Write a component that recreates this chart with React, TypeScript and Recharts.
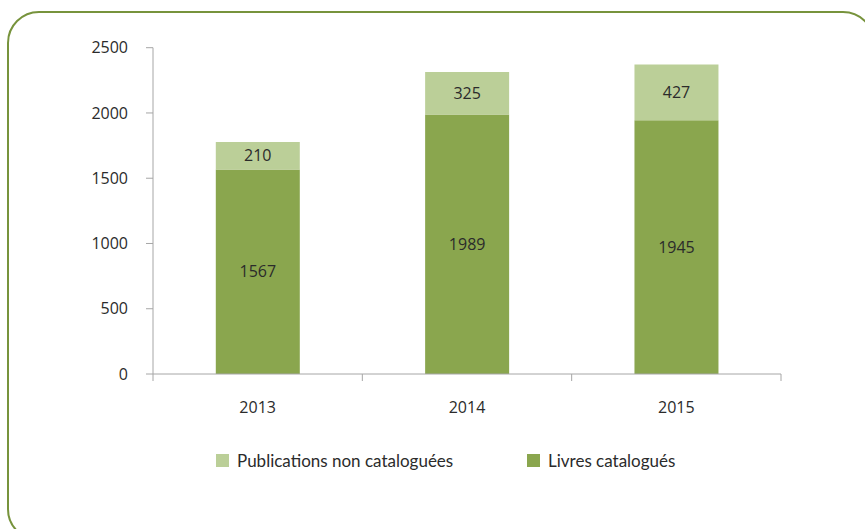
import React from "react";
import { BarChart, Bar, XAxis, YAxis, Legend, LabelList } from "recharts";

const years = ["2013", "2014", "2015"];
const livresCatalogues = [1567, 1989, 1945];
const publicationsNonCataloguees = [210, 325, 427];
const yTicks = [0, 500, 1000, 1500, 2000, 2500];

const data = years.map((y, i) => ({
  year: y,
  livres: livresCatalogues[i],
  publications: publicationsNonCataloguees[i],
}));

const DARK = "#8aa64e";
const LIGHT = "#bbcf98";
const AXIS = "#a6a6a6";
const TICK_FONT = "'Open Sans', sans-serif";

const XTick = (props: any) => {
  const { x, y, payload, index } = props;
  const half = payload && payload.offset ? payload.offset : 104.7;
  const axisY = y - 28;
  return (
    <g>
      <line x1={x - half} x2={x - half} y1={axisY} y2={axisY + 7} stroke={AXIS} strokeWidth={1} />
      {index === years.length - 1 && (
        <line x1={x + half} x2={x + half} y1={axisY} y2={axisY + 7} stroke={AXIS} strokeWidth={1} />
      )}
      <text x={x} y={y} dy="0.71em" textAnchor="middle" fill="#2b2b2b" fontSize={16} fontFamily={TICK_FONT}>
        {payload.value}
      </text>
    </g>
  );
};

const LegendContent = (props: any) => {
  const items = [...(props.payload || [])].reverse();
  return (
    <div style={{ display: "flex", alignItems: "center", height: 20, fontFamily: "Lato, sans-serif", fontSize: 17, color: "#2b2b2b" }}>
      {items.map((it: any, i: number) => (
        <div key={i} style={{ display: "flex", alignItems: "center", width: i === 0 ? 311 : 220 }}>
          <span style={{ display: "inline-block", width: 13, height: 13, background: it.color, marginRight: 8 }} />
          <span>{it.value}</span>
        </div>
      ))}
    </div>
  );
};

export default function App() {
  return (
    <div style={{ position: "absolute", left: 0, top: 0, width: 865, height: 529, overflow: "hidden", background: "#fff" }}>
      <div
        style={{
          position: "absolute",
          left: 7,
          top: 11,
          width: 868,
          height: 530,
          border: "2px solid #77933c",
          borderRadius: 32,
          boxSizing: "border-box",
        }}
      />
      <div style={{ position: "absolute", left: 0, top: 0 }}>
        <BarChart
          width={865}
          height={529}
          data={data}
          margin={{ top: 47.7, right: 84, bottom: 59, left: 93 }}
          barCategoryGap="30%"
        >
          <YAxis
            width={60}
            domain={[0, 2500]}
            ticks={yTicks}
            interval={0}
            axisLine={{ stroke: AXIS }}
            tickLine={{ stroke: AXIS }}
            tickSize={7}
            tickMargin={18}
            tick={{ fill: "#2b2b2b", fontSize: 16, fontFamily: TICK_FONT }}
          />
          <XAxis
            dataKey="year"
            height={76}
            axisLine={{ stroke: AXIS }}
            tickLine={false}
            tickSize={7}
            tickMargin={21}
            tick={<XTick />}
          />
          <Legend
            verticalAlign="bottom"
            content={<LegendContent />}
            wrapperStyle={{ left: 216, width: 620 }}
          />
          <Bar dataKey="livres" name="Livres catalogués" stackId="a" fill={DARK} isAnimationActive={false}>
            <LabelList dataKey="livres" position="center" fill="#2b2b2b" fontSize={16} fontFamily={TICK_FONT} />
          </Bar>
          <Bar dataKey="publications" name="Publications non cataloguées" stackId="a" fill={LIGHT} isAnimationActive={false}>
            <LabelList dataKey="publications" position="center" fill="#2b2b2b" fontSize={16} fontFamily={TICK_FONT} />
          </Bar>
        </BarChart>
      </div>
    </div>
  );
}
